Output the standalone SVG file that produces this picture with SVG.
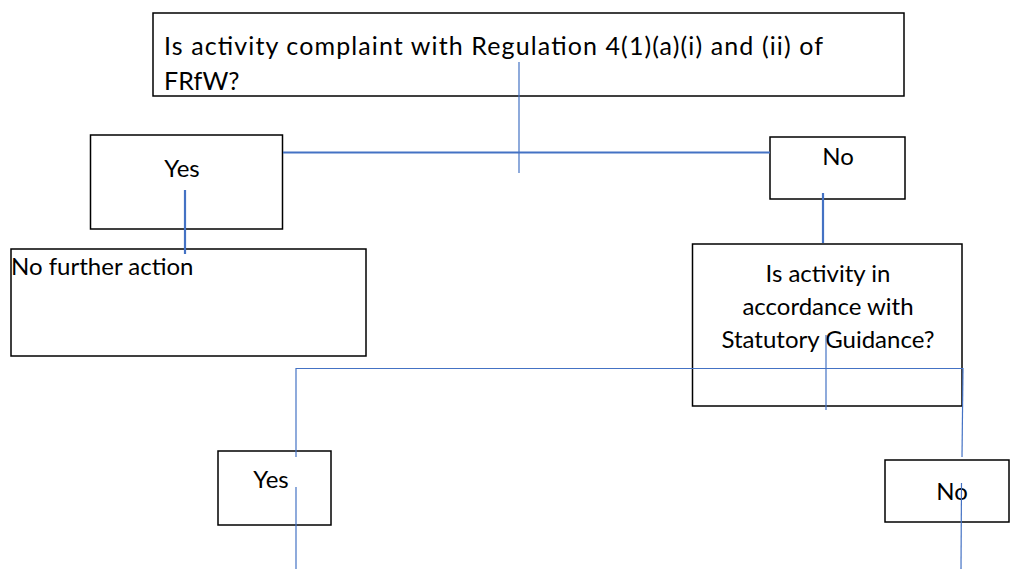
<svg xmlns="http://www.w3.org/2000/svg" width="1010" height="569" viewBox="0 0 1010 569">
<style>
.box{fill:#fff;stroke:#000;stroke-width:1.5}
.t{font-family:Lato,"Open Sans","Liberation Sans",sans-serif;font-size:24px;fill:#000}
.big{font-size:25px}
.c{text-anchor:middle}
.thick{stroke:#4472C4;stroke-width:2.2;fill:none}
.thin{stroke:#4472C4;stroke-width:1.2;fill:none}
</style>
<rect width="1010" height="569" fill="#fff"/>
<g id="q1">
<rect class="box" x="153" y="13" width="751" height="83"/>
<text class="t big" x="164" y="55" textLength="659">Is activity complaint with Regulation 4(1)(a)(i) and (ii) of</text>
<text class="t big" x="164" y="90">FRfW?</text>
</g>
<g id="yes1">
<rect class="box" x="90.5" y="135" width="192" height="94"/>
<text class="t c" x="182" y="177">Yes</text>
</g>
<g id="no1">
<rect class="box" x="770" y="137" width="135" height="62"/>
<text class="t c" x="838" y="165">No</text>
</g>
<g id="nfa">
<rect class="box" x="11" y="249" width="355" height="107"/>
<text class="t" x="11" y="275">No further action</text>
</g>
<g id="q2">
<rect class="box" x="692.5" y="244" width="269.5" height="162"/>
<text class="t c" x="828" y="282">Is activity in</text>
<text class="t c" x="828" y="315">accordance with</text>
<text class="t c" x="828" y="348">Statutory Guidance?</text>
</g>
<g id="yes2">
<rect class="box" x="218" y="451" width="113" height="74"/>
<text class="t c" x="271" y="488">Yes</text>
</g>
<g id="no2">
<rect class="box" x="885" y="460" width="124" height="62"/>
<text class="t c" x="952" y="500">No</text>
</g>
<g id="connectors">
<line class="thin" x1="519" y1="62" x2="519" y2="173"/>
<line class="thick" x1="283" y1="152.5" x2="770" y2="152.5"/>
<line class="thick" x1="185" y1="190" x2="185" y2="254"/>
<line class="thick" x1="823" y1="193" x2="823" y2="243"/>
<line class="thin" x1="296" y1="368.5" x2="963" y2="368.5"/>
<line class="thin" x1="296" y1="368" x2="296" y2="457"/>
<line class="thin" x1="296" y1="487" x2="296" y2="569"/>
<line class="thin" x1="826" y1="335" x2="826" y2="410"/>
<line class="thin" x1="963" y1="368" x2="962" y2="457"/>
<line class="thin" x1="961.5" y1="483" x2="961" y2="569"/>
</g>
</svg>
